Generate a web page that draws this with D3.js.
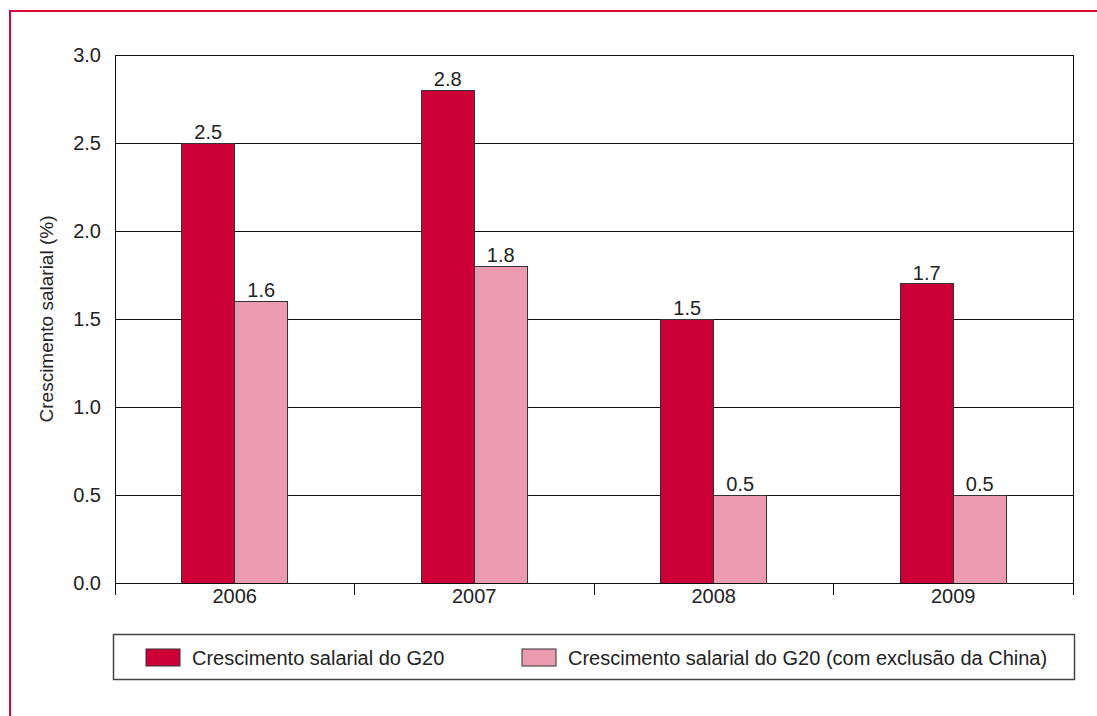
<!DOCTYPE html>
<html><head><meta charset="utf-8">
<script src="https://cdn.jsdelivr.net/npm/d3@7"></script>
<style>body{margin:0;background:#fff;}svg{display:block;font-family:"Liberation Sans",Arial,sans-serif;}</style>
</head><body>
<svg id="c" width="1097" height="716"></svg>
<script>
const years = ["2006","2007","2008","2009"];
const seriesNames = ["Crescimento salarial do G20","Crescimento salarial do G20 (com exclusão da China)"];
const g20 = [2.5, 2.8, 1.5, 1.7];
const g20exChina = [1.6, 1.8, 0.5, 0.5];
const yTicks = [0.0, 0.5, 1.0, 1.5, 2.0, 2.5, 3.0];
const colors = ["#cc0036", "#ea9bb0"];

const svg = d3.select("#c");
const fontSize = 20, textCol = "#222", ff = "Liberation Sans, Arial, sans-serif";
// frame
svg.append("rect").attr("x",10).attr("y",11).attr("width",1200).attr("height",800)
  .attr("fill","none").attr("stroke","#d2063c").attr("stroke-width",2);

const m = {l:115, r:1073, t:55, b:583};
const x0 = d3.scaleBand().domain(years).range([m.l, m.r]).paddingInner(0).paddingOuter(0);
const x1 = d3.scaleBand().domain([0,1]).range([0, x0.bandwidth()]).paddingInner(0).paddingOuter(1.26);
const y = d3.scaleLinear().domain([0,3]).range([m.b, m.t]);

// gridlines
svg.append("g").selectAll("line").data(yTicks.slice(1)).join("line")
  .attr("x1",m.l).attr("x2",m.r).attr("y1",d=>y(d)).attr("y2",d=>y(d))
  .attr("stroke","#111").attr("stroke-width",1).attr("shape-rendering","crispEdges");
// right border
svg.append("line").attr("x1",m.r).attr("x2",m.r).attr("y1",m.t).attr("y2",m.b+12)
  .attr("stroke","#111").attr("shape-rendering","crispEdges");

// y axis
const yAxis = svg.append("g").attr("transform",`translate(${m.l},0)`)
  .call(d3.axisLeft(y).tickValues(yTicks).tickFormat(d3.format(".1f")).tickSize(0).tickPadding(14));
yAxis.select(".domain").attr("stroke","#111").attr("shape-rendering","crispEdges");
yAxis.selectAll("text").attr("font-size",fontSize).attr("fill",textCol).attr("font-family",ff);

// bars
const groups = svg.append("g").selectAll("g").data(years).join("g")
  .attr("transform",d=>`translate(${x0(d)},0)`);
const vals = [g20, g20exChina];
groups.each(function(yr, i){
  const g = d3.select(this);
  [0,1].forEach(s=>{
    const v = vals[s][i];
    g.append("rect").attr("x",x1(s)).attr("width",x1.bandwidth())
      .attr("y",y(v)).attr("height",y(0)-y(v))
      .attr("fill",colors[s]).attr("stroke","#333").attr("stroke-width",1).attr("shape-rendering","crispEdges");
    g.append("text").attr("x",x1(s)+x1.bandwidth()/2).attr("y",y(v)-4)
      .attr("text-anchor","middle").attr("font-size",fontSize).attr("fill",textCol).attr("font-family",ff).text(d3.format(".1f")(v));
  });
});

// x axis
const xAxis = svg.append("g").attr("transform",`translate(0,${m.b})`)
  .call(d3.axisBottom(x0).tickSize(0).tickPadding(6));
xAxis.select(".domain").attr("stroke","#111").attr("shape-rendering","crispEdges");
xAxis.selectAll("text").attr("font-size",fontSize).attr("fill",textCol).attr("font-family",ff);
// boundary ticks
const bounds = years.map(d=>x0(d)).concat([m.r]);
svg.append("g").selectAll("line").data(bounds).join("line")
  .attr("x1",d=>d).attr("x2",d=>d).attr("y1",m.b).attr("y2",m.b+12)
  .attr("stroke","#111").attr("shape-rendering","crispEdges");

// y label
svg.append("text").attr("transform",`translate(53,${(m.t+m.b)/2}) rotate(-90)`)
  .attr("text-anchor","middle").attr("font-size",19).attr("fill",textCol).attr("font-family",ff).text("Crescimento salarial (%)");

// legend
svg.append("rect").attr("x",113.5).attr("y",634.5).attr("width",961).attr("height",45)
  .attr("fill","none").attr("stroke","#444").attr("stroke-width",1.5);
const legX = [146, 522];
seriesNames.forEach((n,i)=>{
  svg.append("rect").attr("x",legX[i]).attr("y",649).attr("width",34).attr("height",17)
    .attr("fill",colors[i]).attr("stroke","#333").attr("stroke-width",1);
  svg.append("text").attr("x",legX[i]+46).attr("y",665).attr("font-size",fontSize).attr("fill",textCol).attr("font-family",ff).text(n);
});
</script>
</body></html>
